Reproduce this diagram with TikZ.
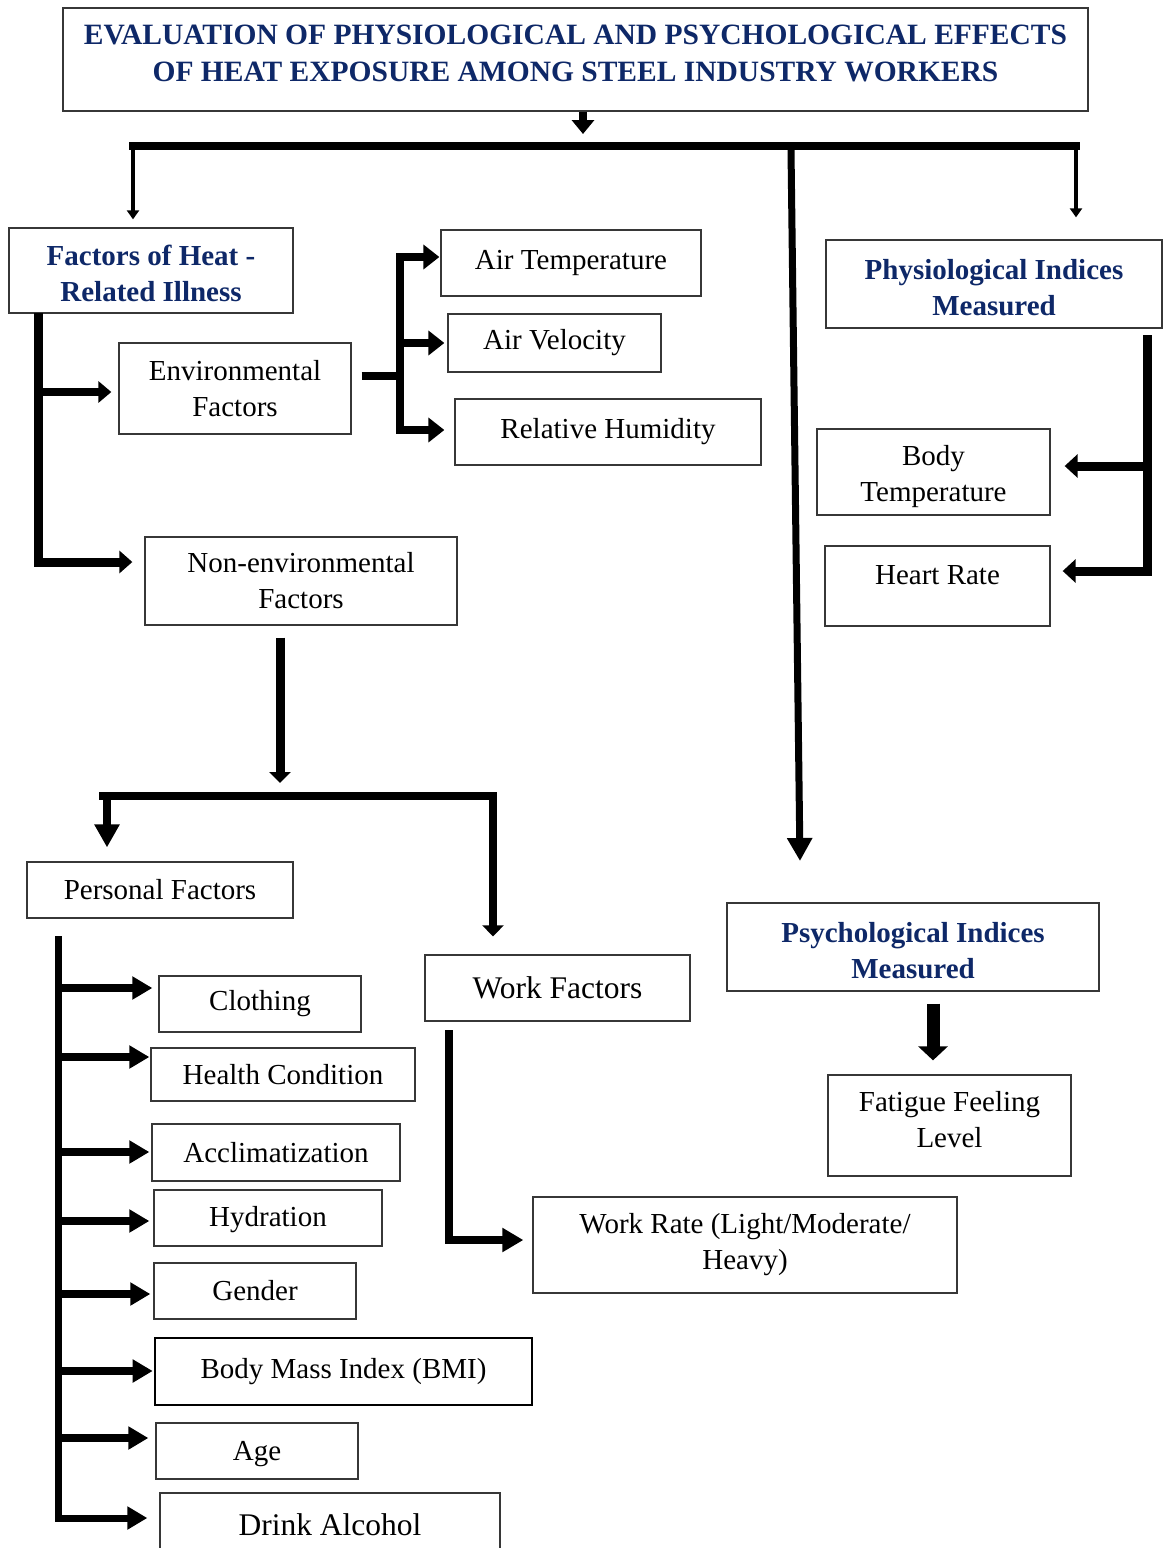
\documentclass[tikz,border=0pt]{standalone}
\usepackage{fontspec}
\setmainfont{Liberation Serif}
\usetikzlibrary{arrows.meta}
\definecolor{navy}{RGB}{14,40,104}
\definecolor{frame}{RGB}{55,55,55}
\newcommand\tpad[1]{\rule{0pt}{#1}}
\newcommand\bpad[1]{\rule[-#1]{0pt}{#1}}
\begin{document}
\begin{tikzpicture}[x=1pt,y=-1pt,
  box/.style={draw=frame, line width=1.3pt, inner sep=0pt, align=center, font=\fontsize{29}{36}\selectfont},
  headbox/.style={box, text=navy, font=\fontsize{29}{36}\selectfont\bfseries},
  bigfont/.style={font=\fontsize{31.5}{38}\selectfont},
  conn/.style={line width=8pt, line join=miter},
  tipA/.style={-{Triangle[length=16pt,width=24pt]}},
  tipC/.style={-{Triangle[length=20pt,width=22pt]}},
  tipD/.style={-{Triangle[length=11pt,width=21pt]}},
  tipS/.style={-{Triangle[length=9pt,width=12pt]}},
]
\clip (0,0) rectangle (1163,1548);
\fill[white] (0,0) rectangle (1163,1548);

% ---------- boxes ----------
\node[headbox, font=\fontsize{29.5}{37}\selectfont\bfseries, minimum width=1025pt, minimum height=103pt] (title) at (575.5,59.5)
  {EVALUATION OF PHYSIOLOGICAL AND PSYCHOLOGICAL EFFECTS\\OF HEAT EXPOSURE AMONG STEEL INDUSTRY WORKERS\bpad{12pt}};
\node[headbox, minimum width=284pt, minimum height=85pt] (heat) at (151,270.5) {\tpad{27pt}Factors of Heat -\\Related Illness};
\node[box, minimum width=232pt, minimum height=91pt] (env) at (235,388.5) {Environmental\\Factors};
\node[box, minimum width=312pt, minimum height=88pt] (nonenv) at (301,581) {Non-environmental\\Factors};
\node[box, minimum width=260pt, minimum height=66pt] (airT) at (571,263) {Air Temperature};
\node[box, minimum width=213pt, minimum height=58pt] (airV) at (554.5,343) {Air Velocity};
\node[box, minimum width=306pt, minimum height=66pt] (hum) at (608,432) {Relative Humidity};
\node[headbox, minimum width=336pt, minimum height=88pt] (phys) at (994,284) {\tpad{27pt}Physiological Indices\\Measured};
\node[box, minimum width=233pt, minimum height=86pt] (bodyT) at (933.5,472) {\tpad{30pt}Body\\Temperature};
\node[box, minimum width=225pt, minimum height=80pt] (heart) at (937.5,586) {Heart Rate\bpad{23pt}};
\node[box, minimum width=266pt, minimum height=56pt] (pers) at (160,890) {Personal Factors};
\node[box, bigfont, minimum width=265pt, minimum height=66pt] (work) at (557.5,988) {Work Factors};
\node[box, minimum width=424pt, minimum height=96pt] (rate) at (745,1245) {Work Rate (Light/Moderate/\\Heavy)};
\node[headbox, minimum width=372pt, minimum height=88pt] (psych) at (913,947) {\tpad{27pt}Psychological Indices\\Measured};
\node[box, minimum width=243pt, minimum height=101pt] (fatigue) at (949.5,1125.5) {Fatigue Feeling\\Level\bpad{12pt}};
\node[box, minimum width=202pt, minimum height=56pt] (cloth) at (260,1004) {Clothing};
\node[box, minimum width=264pt, minimum height=53pt] (health) at (283,1074.5) {Health Condition};
\node[box, minimum width=248pt, minimum height=57pt] (accl) at (276,1152.5) {Acclimatization};
\node[box, minimum width=228pt, minimum height=56pt] (hydr) at (268,1218) {\tpad{23pt}Hydration};
\node[box, minimum width=202pt, minimum height=56pt] (gender) at (255,1291) {Gender};
\node[box, draw=black, line width=2.6pt, minimum width=377pt, minimum height=67pt] (bmi) at (343.5,1371.5) {Body Mass Index (BMI)};
\node[box, minimum width=202pt, minimum height=56pt] (age) at (257,1451) {\tpad{26pt}Age};
\node[box, bigfont, minimum width=340pt, minimum height=67pt] (drink) at (330,1526.5) {Drink Alcohol\bpad{4pt}};

% ---------- top level ----------
\coordinate (busL) at (133,146);
\coordinate (busR) at (1076,146);
\coordinate (midTop) at (791,150);
\coordinate (midEnd) at (800,861);
\draw[conn, -{Triangle[length=14pt,width=22pt]}] ([xshift=7.5pt]title.south) -- (583,134);
\draw[conn, line cap=rect] (busL) -- (busR);
\draw[line width=4pt, tipS, shorten >=8pt] (busL) -- (busL |- heat.north);
\draw[line width=4.5pt, tipS, shorten >=22pt] (busR) -- (busR |- phys.north);
\draw[line width=7pt, -{Triangle[length=23pt,width=24pt]}] (midTop) -- (midEnd);

% ---------- heat-related illness ----------
\coordinate (hs) at (38,313);
\coordinate (hEnv) at (38,392);
\coordinate (hNon) at (38,562);
\draw[conn, line width=9pt, -{Triangle[length=13pt,width=22pt]}] (hs) -- (hNon) -- ([xshift=-12pt]nonenv.west |- hNon);
\draw[conn, -{Triangle[length=13pt,width=21pt]}] (hEnv) -- ([xshift=-7pt]env.west |- hEnv);

% ---------- environmental ----------
\coordinate (eJ) at (400,376);
\coordinate (eT) at (400,257);
\coordinate (eV) at (400,343);
\coordinate (eH) at (400,430);
\draw[conn] ([xshift=10pt]env.east |- eJ) -- (eJ);
\draw[conn, tipA] (eJ) -- (eT) -- ([xshift=-1pt]airT.west |- eT);
\draw[conn, tipA] (eJ) -- (eH) -- ([xshift=-10pt]hum.west |- eH);
\draw[conn, tipA] (eV) -- ([xshift=-3pt]airV.west |- eV);

% ---------- physiological ----------
\coordinate (pTop) at (1147,335);
\coordinate (pB) at (1147,466);
\coordinate (pH) at (1147,571);
\draw[conn, line width=9pt, -{Triangle[length=13pt,width=23pt]}] (pTop) -- (pH) -- ([xshift=12pt]heart.east |- pH);
\draw[conn, line width=9pt, -{Triangle[length=13pt,width=23pt]}] (pB) -- ([xshift=14pt]bodyT.east |- pB);

% ---------- non-environmental ----------
\coordinate (nBus) at (280,796);
\coordinate (nL) at (107,796);
\coordinate (nR) at (493,796);
\draw[conn, line width=9pt, -{Triangle[length=11pt,width=21pt]}] ([yshift=-12pt]nonenv.south -| nBus) -- (280,783);
\draw[conn, line cap=rect] ([xshift=-4pt]nL) -- (nR);
\draw[conn, -{Triangle[length=23pt,width=24pt]}] (nL) -- ([yshift=14pt]nL |- pers.north);
\draw[conn, tipD] (nR) -- ([yshift=18pt]nR |- work.north);

% ---------- personal ----------
\coordinate (pv) at (58,936);
\coordinate (pD) at (58,1518);
\draw[conn, line width=7pt, tipC] (pv) -- (pD) -- ([xshift=-12pt]drink.west |- pD);
\draw[conn, tipC] (58,988)  -- ([xshift=-6pt]cloth.west |- 0,988);
\draw[conn, tipC] (58,1057) -- ([xshift=-1pt]health.west |- 0,1057);
\draw[conn, tipC] (58,1152) -- ([xshift=-2pt]accl.west |- 0,1152);
\draw[conn, tipC] (58,1221) -- ([xshift=-4pt]hydr.west |- 0,1221);
\draw[conn, tipC] (58,1294) -- ([xshift=-3pt]gender.west |- 0,1294);
\draw[conn, tipC] (58,1371) -- ([xshift=-1pt]bmi.west |- 0,1371);
\draw[conn, tipC] (58,1438) -- ([xshift=-7pt]age.west |- 0,1438);

% ---------- work ----------
\coordinate (wTop) at (449,1030);
\coordinate (wC) at (449,1240);
\draw[conn, -{Triangle[length=21pt,width=23pt]}] (wTop) -- (wC) -- ([xshift=-9pt]rate.west |- wC);

% ---------- psychological ----------
\draw[line width=13pt, -{Triangle[length=14pt,width=29pt]}] ([xshift=20pt,yshift=-12pt]psych.south) -- ([xshift=-16.5pt,yshift=14pt]fatigue.north);
\end{tikzpicture}
\end{document}
